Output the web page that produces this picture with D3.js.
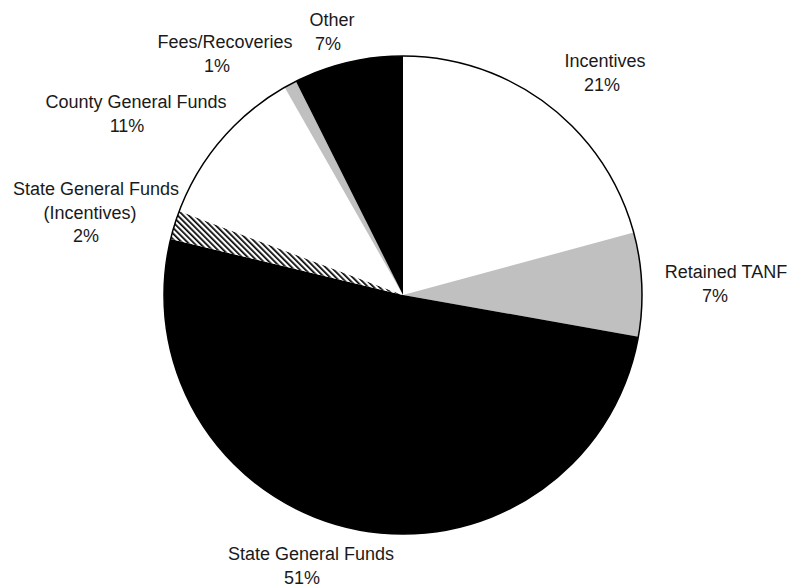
<!DOCTYPE html>
<html>
<head>
<meta charset="utf-8">
<script src="https://cdn.jsdelivr.net/npm/d3@7"></script>
<style>
  html, body { margin: 0; padding: 0; background: #fff; }
  svg { display: block; }
  text { font-family: "Liberation Sans", Arial, sans-serif; font-size: 18px; fill: #1a1a1a; }
</style>
</head>
<body>
<svg id="chart" width="799" height="588"></svg>
<script>
// Data
const categories = ["Incentives", "Retained TANF", "State General Funds", "State General Funds (Incentives)", "County General Funds", "Fees/Recoveries", "Other"];
const shares = [20.8, 7.0, 51.0, 1.95, 11.05, 0.85, 7.4];
const pctLabels = ["21%", "7%", "51%", "2%", "11%", "1%", "7%"];
const nameLines = [["Incentives"], ["Retained TANF"], ["State General Funds"], ["State General Funds", "(Incentives)"], ["County General Funds"], ["Fees/Recoveries"], ["Other"]];

// Styling / layout (line centres x, first baseline y)
const fills = ["#ffffff", "#c0c0c0", "#000000", "url(#hatch)", "#ffffff", "#c0c0c0", "#000000"];
const labelX = [[605, 602], [726, 715], [311, 302], [96, 90, 86], [136, 127], [225, 217], [332, 328]];
const labelY = [67, 278, 560, 195, 108, 48, 26];
const cx = 403, cy = 295, R = 239, lineH = 23.5;

const svg = d3.select("#chart");
const defs = svg.append("defs");
const pat = defs.append("pattern")
  .attr("id", "hatch").attr("patternUnits", "userSpaceOnUse")
  .attr("width", 4).attr("height", 4)
  .attr("patternTransform", "rotate(-45)");
pat.append("rect").attr("width", 4).attr("height", 4).attr("fill", "#fff");
pat.append("rect").attr("x", 0).attr("width", 1.7).attr("height", 4).attr("fill", "#000");

const pie = d3.pie().sort(null).value(d => d.v);
const arcs = pie(categories.map((c, i) => ({ c, v: shares[i], i })));
const arc = d3.arc().innerRadius(0).outerRadius(R);

const g = svg.append("g").attr("transform", `translate(${cx},${cy})`);
g.selectAll("path.slice").data(arcs).join("path")
  .attr("class", "slice")
  .attr("d", arc)
  .attr("fill", d => fills[d.data.i])
  .attr("stroke", "none");
g.append("circle").attr("r", R).attr("fill", "none").attr("stroke", "#000").attr("stroke-width", 1.5);

// Labels
const lg = svg.append("g");
arcs.forEach(d => {
  const i = d.data.i;
  const lines = nameLines[i].concat([pctLabels[i]]);
  const t = lg.append("text").attr("text-anchor", "middle");
  lines.forEach((s, k) => {
    t.append("tspan").attr("x", labelX[i][k]).attr("y", labelY[i] + k * lineH).text(s);
  });
});
</script>
</body>
</html>
